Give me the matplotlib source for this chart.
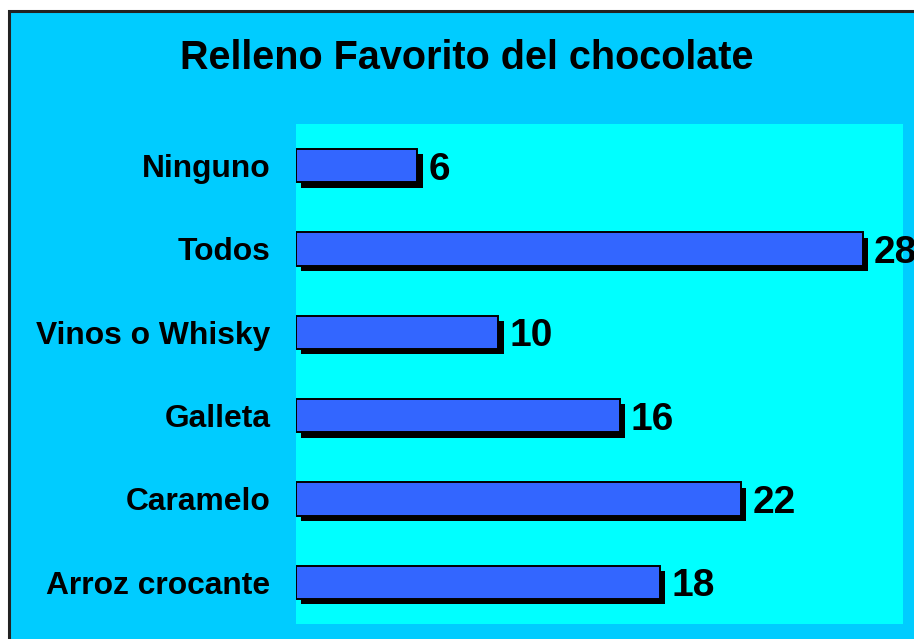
import matplotlib
matplotlib.use("Agg")
import matplotlib.pyplot as plt
import matplotlib.patheffects as pe
from matplotlib.patches import Rectangle

categories = ["Ninguno", "Todos", "Vinos o Whisky", "Galleta", "Caramelo", "Arroz crocante"]
values = [6, 28, 10, 16, 22, 18]
title = "Relleno Favorito del chocolate"

plt.rcParams['font.family'] = ['Liberation Sans', 'DejaVu Sans']

W, H = 914, 639
fig = plt.figure(figsize=(W / 100, H / 100), dpi=100)
fig.patch.set_facecolor('white')

# outer chart area with border
bg = Rectangle((9 / W, -0.05), 1.2, 1 - 10.5 / H + 0.05, transform=fig.transFigure,
               facecolor='#00CCFF', edgecolor='#222222', linewidth=2.2, zorder=-5)
fig.patches.append(bg)

ax = fig.add_axes([296 / W, 1 - 624 / H, (903 - 296) / W, (624 - 124) / H])
ax.set_zorder(1)
ax.set_facecolor('#00FFFF')
for s in ax.spines.values():
    s.set_visible(False)

ypos = list(range(len(categories)))
bars = ax.barh(ypos, values, height=0.4, color='#3366FF', edgecolor='black', linewidth=1.4,
               path_effects=[pe.SimplePatchShadow(offset=(3.8, -3.8), shadow_rgbFace='black', alpha=1.0),
                             pe.Normal()])
ax.set_xlim(0, 30)
ax.set_ylim(5.5, -0.5)
ax.set_yticks(ypos)
ax.set_yticklabels(categories, fontsize=22.9, fontweight='bold')
ax.set_xticks([])
ax.tick_params(axis='y', length=0, pad=18.5)

labels = ax.bar_label(bars, labels=[str(v) for v in values], padding=8, fontsize=28, fontweight='bold')
for t in labels:
    t.set_verticalalignment('center_baseline')

fig.text(467 / W, 1 - 58 / H, title, ha='center', va='center', fontsize=28.5, fontweight='bold')

fig.savefig('out.png', dpi=100)
